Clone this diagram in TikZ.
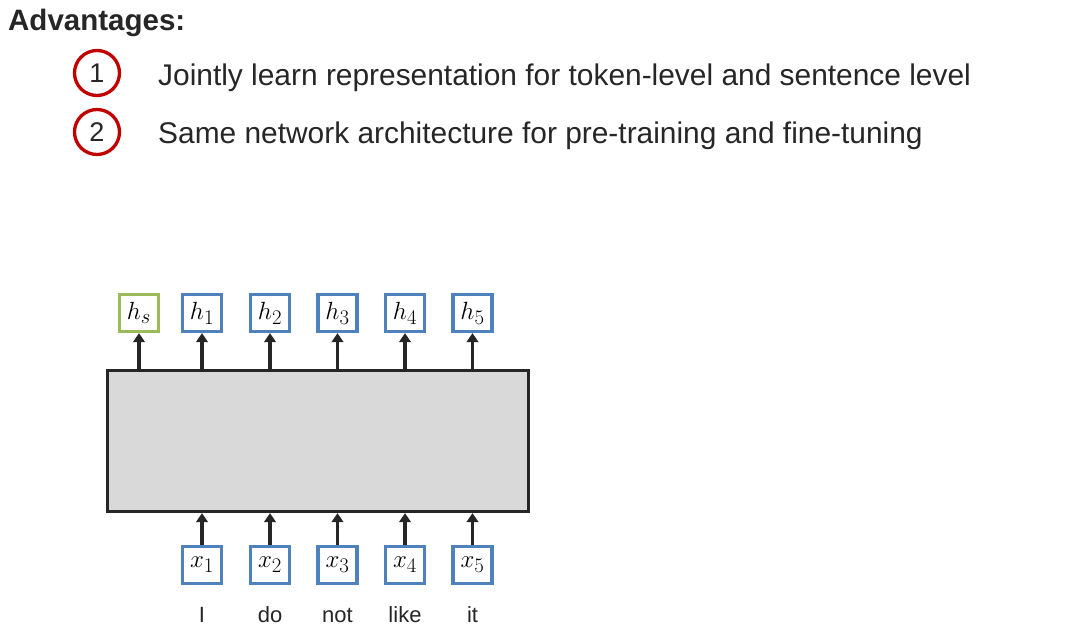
\documentclass[tikz,border=0pt]{standalone}
\usepackage{fontspec}
\setmainfont{Liberation Sans}
\DeclareMathSizes{27}{27}{20}{15}
\usetikzlibrary{arrows.meta}
\definecolor{txt}{HTML}{262626}
\definecolor{boxblue}{HTML}{4F81BD}
\definecolor{boxgreen}{HTML}{9BBB59}
\definecolor{circred}{HTML}{C00000}
\definecolor{encgray}{HTML}{D9D9D9}
\tikzset{
  hdr/.style={font=\fontsize{29.5}{34}\selectfont\bfseries, text=txt, inner sep=0pt},
  itemtext/.style={font=\fontsize{29.9}{34}\selectfont, text=txt, inner sep=0pt},
  circ/.style={circle, draw=circred, line width=3.3pt, minimum size=45pt, inner sep=0pt,
    font=\fontsize{27}{30}\selectfont, text=txt},
  vbox/.style={draw=boxblue, line width=3.2pt, fill=white, minimum width=39pt,
    minimum height=37pt, inner sep=0pt, font=\fontsize{27}{30}\selectfont},
  sbox/.style={vbox, draw=boxgreen},
  enc/.style={draw=txt, line width=3.2pt, fill=encgray, minimum width=421pt,
    minimum height=141pt, inner sep=0pt},
  arr/.style={draw=txt, line width=3.2pt, -{Triangle[length=9pt,width=11.5pt]}},
  word/.style={font=\fontsize{22}{26}\selectfont, text=txt, inner sep=0pt}
}
\begin{document}
\begin{tikzpicture}[x=1pt,y=-1pt]
\path[use as bounding box, fill=white] (0,0) rectangle (1084,626);
\node[hdr, anchor=base west] (title) at (8,31) {Advantages:};
\node[circ] (c1) at (97,73) {1};
\node[itemtext, anchor=base west] (t1) at (158,85) {Jointly learn representation for token-level and sentence level};
\node[circ] (c2) at (97,132) {2};
\node[itemtext, anchor=base west] (t2) at (158,143) {Same network architecture for pre-training and fine-tuning};

\node[enc] (enc) at (318,441) {};

\node[sbox] (hs) at (139,313) {$h_s$};
\node[vbox] (h1) at (202,313) {$h_1$};
\node[vbox] (h2) at (270,313) {$h_2$};
\node[vbox] (h3) at (337.5,313) {$h_3$};
\node[vbox] (h4) at (405,313) {$h_4$};
\node[vbox] (h5) at (472.5,313) {$h_5$};

\node[vbox] (x1) at (202,565) {$x_1$};
\node[vbox] (x2) at (270,565) {$x_2$};
\node[vbox] (x3) at (337.5,565) {$x_3$};
\node[vbox] (x4) at (405,565) {$x_4$};
\node[vbox] (x5) at (472.5,565) {$x_5$};

\foreach \n in {hs,h1,h2,h3,h4,h5}{
  \draw[arr] (enc.north -| \n.south) -- (\n.south);
}
\foreach \n in {x1,x2,x3,x4,x5}{
  \draw[arr] (\n.north) -- (enc.south -| \n.north);
}

\node[word, anchor=base] (w1) at (202,622) {I};
\node[word, anchor=base] (w2) at (270,622) {do};
\node[word, anchor=base] (w3) at (337.5,622) {not};
\node[word, anchor=base] (w4) at (405,622) {like};
\node[word, anchor=base] (w5) at (472.5,622) {it};
\end{tikzpicture}
\end{document}
